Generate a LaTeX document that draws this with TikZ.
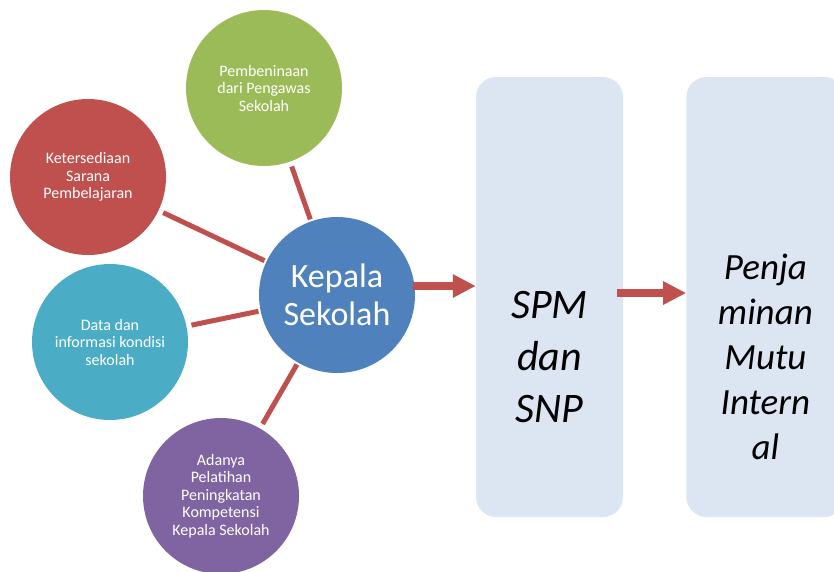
\documentclass[tikz,border=0pt]{standalone}
\usepackage{fontspec}
\setmainfont{Carlito}
\usepackage{tikz}
\usetikzlibrary{arrows.meta,positioning}
\definecolor{kpBlue}{HTML}{4F81BD}
\definecolor{kpRed}{HTML}{C0504D}
\definecolor{kpGreen}{HTML}{9BBB59}
\definecolor{kpTeal}{HTML}{4BACC6}
\definecolor{kpPurple}{HTML}{8064A2}
\definecolor{kpBox}{HTML}{DCE6F2}
\tikzset{
  bubble/.style={circle, minimum size=156pt, inner sep=0pt, align=center,
                 text=white, font=\fontsize{16}{17.5}\selectfont},
  stdbox/.style={rounded corners=20pt, fill=kpBox, minimum width=147pt, minimum height=440pt},
  boxtext/.style={align=center, font=\itshape\fontsize{42}{52}\selectfont},
  spoke/.style={draw=kpRed, line width=5pt, shorten <=5pt, shorten >=2pt},
  fatarr/.style={-{Triangle[length=23pt,width=22pt]}, draw=kpRed, line width=8pt},
}
\begin{document}
\begin{tikzpicture}[x=1pt, y=-1pt]
    \clip (0,0) rectangle (834,571);
    \node[bubble, fill=kpBlue, font=\fontsize{34}{38}\selectfont] (kepala) at (337,295) {Kepala\\Sekolah};
    \node[bubble, fill=kpGreen] (bina) at (264,88) {Pembeninaan\\dari Pengawas\\Sekolah};
    \node[bubble, fill=kpRed] (sarana) at (88,177) {Ketersediaan\\Sarana\\Pembelajaran};
    \node[bubble, fill=kpTeal] (data) at (110,342) {Data dan\\informasi kondisi\\sekolah};
    \node[bubble, fill=kpPurple] (latih) at (221,496) {Adanya\\Pelatihan\\Peningkatan\\Kompetensi\\Kepala Sekolah};
    \foreach \s in {bina,sarana,data,latih}
      \draw[spoke] (\s) -- (kepala);
    \node[stdbox] (spmbox) at (549.5,297) {};
    \node[stdbox, minimum width=158pt, right=63pt of spmbox] (mutubox) {};
    \node[boxtext] (spm) at ([yshift=-60pt]spmbox.center) {SPM\\dan\\SNP};
    \node[boxtext, font=\itshape\fontsize{37}{45}\selectfont] (mutu) at ([yshift=-60pt]mutubox.center)
      {Penja\\minan\\Mutu\\Intern\\al};
    \draw[fatarr] ([xshift=-2pt,yshift=9pt]kepala.east) -- ([yshift=9pt]kepala.east -| spmbox.west);
    \draw[fatarr] ([xshift=-6pt,yshift=4pt]spmbox.east) -- ([yshift=4pt]spmbox.east -| mutubox.west);
  \end{tikzpicture}
\end{document}
